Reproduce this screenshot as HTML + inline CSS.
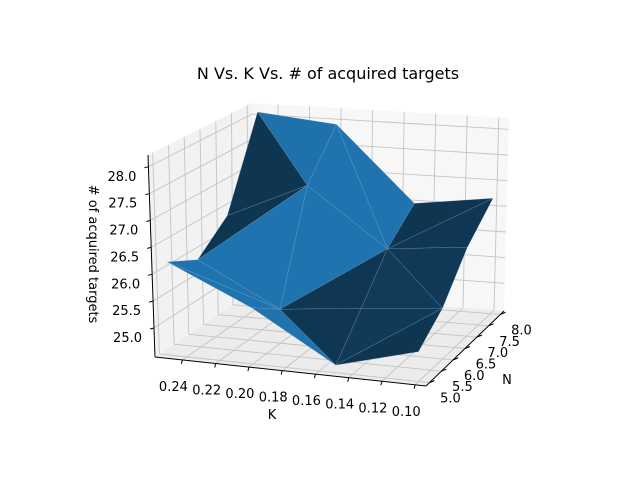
<!DOCTYPE html>
<html><head><meta charset="utf-8"><style>
html,body{margin:0;padding:0;background:#fff;}
svg{display:block;font-family:"DejaVu Sans","Liberation Sans",sans-serif;}
</style></head><body>
<svg id="chart" width="640" height="480" viewBox="0 0 640 480">
<rect width="640" height="480" fill="#fff"/>
<text x="328" y="79" font-size="16" text-anchor="middle" fill="#000">N Vs. K Vs. # of acquired targets</text>
<g id="panes"></g><g id="grid"></g><g id="axes"></g><g id="surface"></g><g id="labels"></g>
<text x="272" y="419" font-size="13" text-anchor="middle">K</text>
<text x="507" y="384" font-size="13" text-anchor="middle">N</text>
<text transform="translate(89,254) rotate(90)" font-size="13" text-anchor="middle"># of acquired targets</text>
</svg>
<script>
const kValues = [0.25, 0.20, 0.15, 0.10];
const nValues = [5, 6, 7, 8];
// zValues[kIndex][nIndex]
const zRow025 = [26.2, 25.9, 26.4, 28.1];
const zRow020 = [25.5, 25.1, 27.1, 27.95];
const zRow015 = [24.6, 25.26, 26.0, 26.5];
const zRow010 = [25.0, 25.4, 26.15, 26.7];
const zValues = [zRow025, zRow020, zRow015, zRow010];
// cell diagonals: 'a' = (i,j)-(i+1,j+1), 'b' = (i+1,j)-(i,j+1)
const diagRow0 = ['a','a','b'];
const diagRow1 = ['b','a','b'];
const diagRow2 = ['a','b','a'];
const diagonals = [diagRow0, diagRow1, diagRow2];
const kTicks = [0.24,0.22,0.20,0.18,0.16,0.14,0.12,0.10];
const kTickLabels = ["0.24","0.22","0.20","0.18","0.16","0.14","0.12","0.10"];
const nTicks = [5.0,5.5,6.0,6.5,7.0,7.5,8.0];
const nTickLabels = ["5.0","5.5","6.0","6.5","7.0","7.5","8.0"];
const zTicks = [25.0,25.5,26.0,26.5,27.0,27.5,28.0];
const zTickLabels = ["25.0","25.5","26.0","26.5","27.0","27.5","28.0"];

const K0=0.2565,K1=0.0935,N0=4.85,N1=8.15,Z0=24.46,Z1=28.22;
const C={A:[155,357],B:[426,386],D:[252,292],Cc:[504,311],F:[148,155],H:[423,178],E:[252,103],G:[509,118]};
function P(k,n,z){
  const u=(K0-k)/(K0-K1), v=(n-N0)/(N1-N0), w=(z-Z0)/(Z1-Z0);
  const r=[0,0];
  for(let i=0;i<2;i++){
    const lo=C.A[i]*(1-u)*(1-v)+C.B[i]*u*(1-v)+C.D[i]*(1-u)*v+C.Cc[i]*u*v;
    const hi=C.F[i]*(1-u)*(1-v)+C.H[i]*u*(1-v)+C.E[i]*(1-u)*v+C.G[i]*u*v;
    r[i]=lo+(hi-lo)*w;
  }
  return r;
}
const NS='http://www.w3.org/2000/svg';
function mk(tag,attrs,parent){const e=document.createElementNS(NS,tag);for(const a in attrs)e.setAttribute(a,attrs[a]);document.getElementById(parent).appendChild(e);return e;}
function pts(a){return a.map(p=>p[0].toFixed(1)+','+p[1].toFixed(1)).join(' ');}

let e;
e=mk('polygon',{points:pts([P(K0,N0,Z0),P(K0,N1,Z0),P(K0,N1,Z1),P(K0,N0,Z1)]),fill:'#f2f2f2'},'panes');


e=mk('polygon',{points:pts([P(K0,N1,Z0),P(K1,N1,Z0),P(K1,N1,Z1),P(K0,N1,Z1)]),fill:'#f7f7f7'},'panes');


e=mk('polygon',{points:pts([P(K0,N0,Z0),P(K1,N0,Z0),P(K1,N1,Z0),P(K0,N1,Z0)]),fill:'#ececec'},'panes');



function gl(a,b){const l=mk('polyline',{points:pts([a,b]),stroke:'#c4c4c4','stroke-width':0.9,fill:'none'},'grid');return l;}
kTicks.forEach(k=>{
  e=gl(P(k,N0,Z0),P(k,N1,Z0));
  
  
  e=gl(P(k,N1,Z0),P(k,N1,Z1));
  
  
});
nTicks.forEach(n=>{
  e=gl(P(K0,n,Z0),P(K1,n,Z0));
  
  
  e=gl(P(K0,n,Z0),P(K0,n,Z1));
  
  
});
zTicks.forEach(z=>{
  e=gl(P(K0,N0,z),P(K0,N1,z));
  
  
  e=gl(P(K0,N1,z),P(K1,N1,z));
  
  
});

function al(a,b){return mk('polyline',{points:pts([a,b]),stroke:'#000','stroke-width':1,fill:'none'},'axes');}
e=al(P(K0,N0,Z0),P(K1,N0,Z0));


e=al(P(K1,N0,Z0),P(K1,N1,Z0));


e=al(P(K0,N0,Z0),P(K0,N0,Z1));


kTicks.forEach((k,i)=>{
  const p=P(k,N0,Z0);
  e=al(p,[p[0]-1,p[1]+4]);
  
  
  const t=mk('text',{x:(p[0]-9).toFixed(1),y:(p[1]+31).toFixed(1),'font-size':13,'text-anchor':'middle'},'labels');
  t.textContent=kTickLabels[i];
  
  
});
nTicks.forEach((n,i)=>{
  const p=P(K1,n,Z0);
  e=al(p,[p[0]+5,p[1]-2]);
  
  
  const t=mk('text',{x:(p[0]+21).toFixed(1),y:(p[1]+20).toFixed(1),'font-size':13,'text-anchor':'middle'},'labels');
  t.textContent=nTickLabels[i];
  
  
});
zTicks.forEach((z,i)=>{
  const p=P(K0,N0,z);
  e=al([p[0]-4,p[1]+1],p);
  
  
  const t=mk('text',{x:(p[0]-12).toFixed(1),y:(p[1]+14).toFixed(1),'font-size':13,'text-anchor':'end'},'labels');
  t.textContent=zTickLabels[i];
  
  
});

const tris=[];
for(let i=0;i<kValues.length-1;i++){
  for(let j=0;j<nValues.length-1;j++){
    const q=(a,b)=>[kValues[a],nValues[b],zValues[a][b]];
    if(diagonals[i][j]==='a'){
      tris.push([q(i,j),q(i+1,j),q(i+1,j+1)]);
      tris.push([q(i,j),q(i+1,j+1),q(i,j+1)]);
    } else {
      tris.push([q(i,j),q(i+1,j),q(i,j+1)]);
      tris.push([q(i+1,j),q(i+1,j+1),q(i,j+1)]);
    }
  }
}
function norm3(t){
  const s=p=>[(K0-p[0])/(K0-K1),(p[1]-N0)/(N1-N0),(p[2]-Z0)/(Z1-Z0)];
  const a=s(t[0]),b=s(t[1]),c=s(t[2]);
  const u=[b[0]-a[0],b[1]-a[1],b[2]-a[2]],v=[c[0]-a[0],c[1]-a[1],c[2]-a[2]];
  let n=[u[1]*v[2]-u[2]*v[1],u[2]*v[0]-u[0]*v[2],u[0]*v[1]-u[1]*v[0]];
  if(n[2]<0)n=n.map(x=>-x);
  const l=Math.hypot(...n);return n.map(x=>x/l);
}
const depth=t=>t.reduce((s,p)=>s+((p[1]-N0)/(N1-N0))+0.3*((p[0]-K1)/(K0-K1)),0);
tris.sort((a,b)=>depth(b)-depth(a));
tris.forEach(t=>{
  const n=norm3(t);
  const d=n[0];
  const f=Math.max(0.45,Math.min(0.97,0.72+2.2*d));
  const col='rgb('+Math.round(32*f)+','+Math.round(119*f)+','+Math.round(180*f)+')';
  const poly=mk('polygon',{points:pts(t.map(p=>P(p[0],p[1],p[2]))),fill:col,stroke:'rgba(140,175,205,0.45)','stroke-width':0.5,'stroke-linejoin':'round'},'surface');
  
  
});
</script>
</body></html>
